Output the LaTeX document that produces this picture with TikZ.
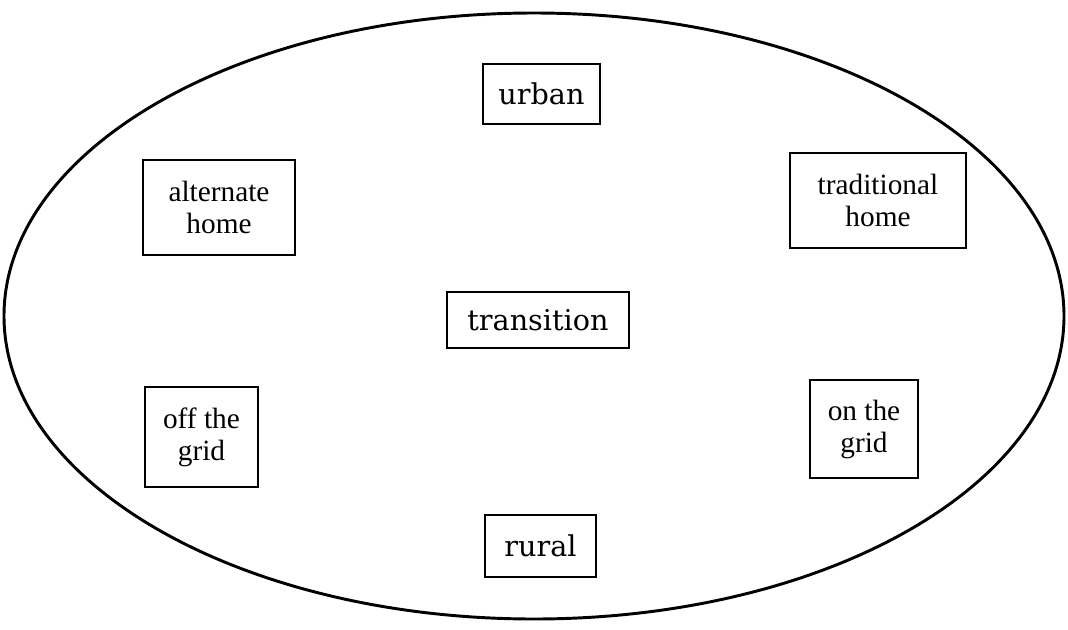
\documentclass[tikz,border=0pt]{standalone}
\usepackage{fontspec}
\setmainfont{Liberation Serif}
\newfontfamily\bigserif{DejaVu Serif}

\tikzset{
  place/.style={draw,line width=2.2pt,inner sep=0pt,align=center,font=\fontsize{22}{24}\selectfont},
  bigplace/.style={place,font=\bigserif\fontsize{21.5}{24}\selectfont}
}

\begin{document}
\begin{tikzpicture}[x=0.75pt,y=-0.75pt]
\useasboundingbox (0,0) rectangle (1068,629);
\draw[line width=2.2pt] (534,316) ellipse [x radius=530, y radius=303];
\draw (541.5,94) node[bigplace,minimum width=87.75pt,minimum height=45pt](urban) {urban};
\draw (219,207.5) node[place,minimum width=114pt,minimum height=71.25pt](althome) {alternate\\home};
\draw (878,200.5) node[place,minimum width=132pt,minimum height=71.25pt](tradhome) {traditional\\home};
\draw (538,320) node[bigplace,minimum width=136.5pt,minimum height=42pt](transition) {transition};
\draw (201.5,437) node[place,minimum width=84.75pt,minimum height=75pt](offgrid) {off the\\grid};
\draw (864,429) node[place,minimum width=81pt,minimum height=73.5pt](ongrid) {on the\\grid};
\draw (540.5,546) node[bigplace,minimum width=83.25pt,minimum height=46.5pt](rural) {rural};
\end{tikzpicture}
\end{document}
